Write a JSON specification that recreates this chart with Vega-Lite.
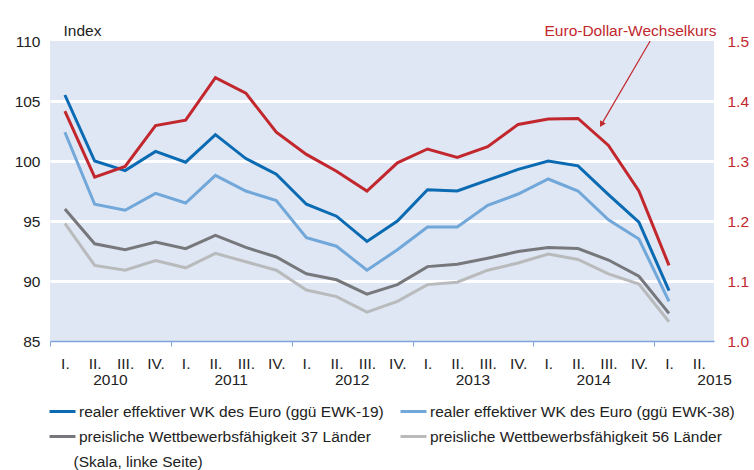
{
  "$schema": "https://vega.github.io/schema/vega-lite/v6.json",
  "width": 664,
  "height": 300,
  "autosize": {"type": "none"},
  "padding": {"left": 50, "top": 41, "right": 40, "bottom": 129},
  "background": "white",
  "config": {"font": "Liberation Sans", "view": {"fill": "#dfe7f4", "stroke": null}, "axisX": {"labelOverlap": false}},
  "datasets": {
    "main": [
      {"date": "2010-02-15", "ewk19": 105.5, "ewk38": 102.4, "p37": 96.0, "p56": 94.8, "usd": 1.383},
      {"date": "2010-05-16", "ewk19": 100.0, "ewk38": 96.4, "p37": 93.1, "p56": 91.3, "usd": 1.273},
      {"date": "2010-08-16", "ewk19": 99.2, "ewk38": 95.9, "p37": 92.6, "p56": 90.9, "usd": 1.291},
      {"date": "2010-11-16", "ewk19": 100.8, "ewk38": 97.3, "p37": 93.25, "p56": 91.7, "usd": 1.359},
      {"date": "2011-02-15", "ewk19": 99.9, "ewk38": 96.5, "p37": 92.7, "p56": 91.1, "usd": 1.368},
      {"date": "2011-05-16", "ewk19": 102.2, "ewk38": 98.8, "p37": 93.8, "p56": 92.3, "usd": 1.439},
      {"date": "2011-08-16", "ewk19": 100.2, "ewk38": 97.5, "p37": 92.8, "p56": 91.6, "usd": 1.413},
      {"date": "2011-11-16", "ewk19": 98.9, "ewk38": 96.7, "p37": 92.0, "p56": 90.9, "usd": 1.348},
      {"date": "2012-02-15", "ewk19": 96.4, "ewk38": 93.6, "p37": 90.6, "p56": 89.25, "usd": 1.311},
      {"date": "2012-05-16", "ewk19": 95.4, "ewk38": 92.9, "p37": 90.1, "p56": 88.7, "usd": 1.283},
      {"date": "2012-08-16", "ewk19": 93.3, "ewk38": 90.9, "p37": 88.9, "p56": 87.4, "usd": 1.250},
      {"date": "2012-11-16", "ewk19": 95.0, "ewk38": 92.6, "p37": 89.7, "p56": 88.3, "usd": 1.297},
      {"date": "2013-02-15", "ewk19": 97.6, "ewk38": 94.5, "p37": 91.2, "p56": 89.7, "usd": 1.320},
      {"date": "2013-05-16", "ewk19": 97.5, "ewk38": 94.5, "p37": 91.4, "p56": 89.9, "usd": 1.306},
      {"date": "2013-08-16", "ewk19": 98.4, "ewk38": 96.3, "p37": 91.9, "p56": 90.9, "usd": 1.324},
      {"date": "2013-11-16", "ewk19": 99.3, "ewk38": 97.25, "p37": 92.45, "p56": 91.5, "usd": 1.361},
      {"date": "2014-02-15", "ewk19": 100.0, "ewk38": 98.5, "p37": 92.8, "p56": 92.25, "usd": 1.370},
      {"date": "2014-05-16", "ewk19": 99.6, "ewk38": 97.5, "p37": 92.7, "p56": 91.8, "usd": 1.371},
      {"date": "2014-08-16", "ewk19": 97.2, "ewk38": 95.1, "p37": 91.75, "p56": 90.6, "usd": 1.326},
      {"date": "2014-11-16", "ewk19": 94.9, "ewk38": 93.5, "p37": 90.4, "p56": 89.75, "usd": 1.250},
      {"date": "2015-02-15", "ewk19": 89.2, "ewk38": 88.3, "p37": 87.3, "p56": 86.6, "usd": 1.126}
    ],
    "arrow": [
      {"date": "2014-12-20", "date2": "2014-07-26", "y": 110, "y2": 103.05}
    ],
    "head": [
      {"date": "2014-07-26", "y": 103.05}
    ]
  },
  "encoding": {
    "x": {
      "field": "date", "type": "temporal",
      "scale": {"type": "utc", "domain": [{"year": 2010, "month": 1, "date": 1, "utc": true}, {"year": 2015, "month": 7, "date": 1, "utc": true}]},
      "axis": {
        "values": [
          {"year": 2010, "month": 1, "date": 1, "utc": true},
          {"year": 2010, "month": 2, "date": 15, "utc": true},
          {"year": 2010, "month": 5, "date": 16, "utc": true},
          {"year": 2010, "month": 7, "date": 1, "utc": true},
          {"year": 2010, "month": 8, "date": 16, "utc": true},
          {"year": 2010, "month": 11, "date": 16, "utc": true},
          {"year": 2011, "month": 1, "date": 1, "utc": true},
          {"year": 2011, "month": 2, "date": 15, "utc": true},
          {"year": 2011, "month": 5, "date": 16, "utc": true},
          {"year": 2011, "month": 7, "date": 1, "utc": true},
          {"year": 2011, "month": 8, "date": 16, "utc": true},
          {"year": 2011, "month": 11, "date": 16, "utc": true},
          {"year": 2012, "month": 1, "date": 1, "utc": true},
          {"year": 2012, "month": 2, "date": 15, "utc": true},
          {"year": 2012, "month": 5, "date": 16, "utc": true},
          {"year": 2012, "month": 7, "date": 1, "utc": true},
          {"year": 2012, "month": 8, "date": 16, "utc": true},
          {"year": 2012, "month": 11, "date": 16, "utc": true},
          {"year": 2013, "month": 1, "date": 1, "utc": true},
          {"year": 2013, "month": 2, "date": 15, "utc": true},
          {"year": 2013, "month": 5, "date": 16, "utc": true},
          {"year": 2013, "month": 7, "date": 1, "utc": true},
          {"year": 2013, "month": 8, "date": 16, "utc": true},
          {"year": 2013, "month": 11, "date": 16, "utc": true},
          {"year": 2014, "month": 1, "date": 1, "utc": true},
          {"year": 2014, "month": 2, "date": 15, "utc": true},
          {"year": 2014, "month": 5, "date": 16, "utc": true},
          {"year": 2014, "month": 7, "date": 1, "utc": true},
          {"year": 2014, "month": 8, "date": 16, "utc": true},
          {"year": 2014, "month": 11, "date": 16, "utc": true},
          {"year": 2015, "month": 1, "date": 1, "utc": true},
          {"year": 2015, "month": 2, "date": 15, "utc": true},
          {"year": 2015, "month": 5, "date": 16, "utc": true},
          {"year": 2015, "month": 7, "date": 1, "utc": true}
        ],
        "labelExpr": "(utcmonth(datum.value) == 6 && utcdate(datum.value) == 1) ? ['', '' + utcyear(datum.value)] : (utcdate(datum.value) == 1 ? '' : ['I.', 'II.', 'III.', 'IV.'][floor(utcmonth(datum.value) / 3)])",
        "tickOpacity": {"condition": {"test": "utcmonth(datum.value) == 0 && utcdate(datum.value) == 1", "value": 1}, "value": 0},
        "tickSize": 5,
        "tickColor": "#7fa3dc",
        "domainColor": "#7fa3dc",
        "domainWidth": 1.5,
        "grid": false,
        "labelFontSize": 15.5,
        "labelColor": "#222222",
        "labelBaseline": "top",
        "labelPadding": 10,
        "labelLineHeight": 16,
        "labelOverlap": false,
        "labelBound": false,
        "labelFlush": false,
        "title": "(Skala, linke Seite)",
        "titleAnchor": "start",
        "titleAlign": "left",
        "titleBaseline": "middle",
        "titleX": 23,
        "titleY": 120,
        "titleFontSize": 15.5,
        "titleFontWeight": "normal",
        "titleColor": "#222222"
      }
    }
  },
  "layer": [
    {
      "layer": [
        {
          "data": {"name": "main"},
          "transform": [{"fold": ["ewk19", "ewk38", "p37", "p56"], "as": ["series", "value"]}],
          "mark": {"type": "line", "strokeWidth": 3},
          "encoding": {
            "y": {
              "field": "value", "type": "quantitative",
              "scale": {"domain": [85, 110], "nice": false, "zero": false},
              "axis": {
                "orient": "left",
                "values": [85, 90, 95, 100, 105, 110],
                "grid": true,
                "gridColor": "white",
                "gridWidth": 3,
                "gridOpacity": {"condition": {"test": "datum.value == 85 || datum.value == 110", "value": 0}, "value": 1},
                "domain": false,
                "ticks": false,
                "tickSize": 0,
                "labelFontSize": 15.5,
                "labelColor": "#222222",
                "labelPadding": 10,
                "title": "Index",
                "titleAngle": 0,
                "titleAlign": "left",
                "titleBaseline": "middle",
                "titleX": 13,
                "titleY": -11,
                "titleFontSize": 15.5,
                "titleFontWeight": "normal",
                "titleColor": "#222222"
              }
            },
            "color": {
              "field": "series", "type": "nominal",
              "scale": {"domain": ["ewk19", "ewk38", "p37", "p56"], "range": ["#0a6ab2", "#71a7d9", "#77787b", "#b9babc"]},
              "legend": {
                "orient": "none",
                "direction": "horizontal",
                "legendX": -2,
                "legendY": 356,
                "columns": 2,
                "symbolType": "stroke",
                "symbolSize": 676,
                "symbolStrokeWidth": 3,
                "labelFontSize": 15.5,
                "labelColor": "#222222",
                "labelOffset": 2,
                "labelLimit": 0,
                "columnPadding": 10,
                "rowPadding": 2,
                "labelExpr": "datum.label == 'ewk19' ? 'realer effektiver WK des Euro (ggü EWK-19)' : datum.label == 'ewk38' ? 'realer effektiver WK des Euro (ggü EWK-38)' : datum.label == 'p37' ? 'preisliche Wettbewerbsfähigkeit 37 Länder' : 'preisliche Wettbewerbsfähigkeit 56 Länder'",
                "title": null
              }
            }
          }
        },
        {
          "data": {"name": "arrow"},
          "mark": {"type": "rule", "color": "#c1272d", "strokeWidth": 1.2},
          "encoding": {
            "x2": {"field": "date2"},
            "y": {"field": "y", "type": "quantitative"},
            "y2": {"field": "y2"}
          }
        },
        {
          "data": {"name": "head"},
          "mark": {"type": "point", "shape": "triangle-up", "filled": true, "color": "#c1272d", "size": 45, "angle": 210, "opacity": 1},
          "encoding": {
            "y": {"field": "y", "type": "quantitative"}
          }
        }
      ]
    },
    {
      "data": {"name": "main"},
      "mark": {"type": "line", "strokeWidth": 3, "color": "#c1272d"},
      "encoding": {
        "y": {
          "field": "usd", "type": "quantitative",
          "scale": {"domain": [1.0, 1.5], "nice": false, "zero": false},
          "axis": {
            "orient": "right",
            "values": [1.0, 1.1, 1.2, 1.3, 1.4, 1.5],
            "format": ".1f",
            "grid": false,
            "domain": false,
            "ticks": false,
            "tickSize": 0,
            "labelFontSize": 15.5,
            "labelColor": "#c1272d",
            "labelPadding": 13,
            "title": "Euro-Dollar-Wechselkurs",
            "titleAngle": 0,
            "titleAlign": "right",
            "titleBaseline": "middle",
            "titleX": 2,
            "titleY": -11,
            "titleFontSize": 15.5,
            "titleFontWeight": "normal",
            "titleColor": "#c1272d"
          }
        }
      }
    }
  ],
  "resolve": {"scale": {"y": "independent"}}
}
